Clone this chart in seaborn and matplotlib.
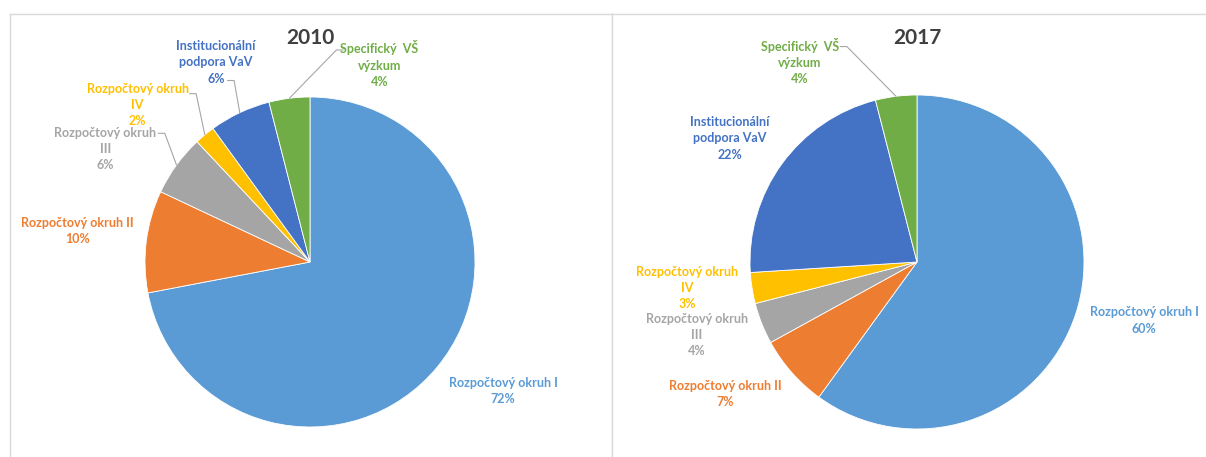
import matplotlib.pyplot as plt
import numpy as np
import seaborn as sns

sns.set_style("white")
plt.rcParams['font.family'] = ['Lato', 'DejaVu Sans']

# data
categories = ['Rozpočtový okruh I', 'Rozpočtový okruh II', 'Rozpočtový okruh\nIII',
              'Rozpočtový okruh\nIV', 'Institucionální\npodpora VaV', 'Specifický  VŠ\nvýzkum']
shares_2010 = [72, 10, 6, 2, 6, 4]
shares_2017 = [60, 7, 4, 3, 22, 4]
years = ['2010', '2017']

colors = ['#5B9BD5', '#ED7D31', '#A5A5A5', '#FFC000', '#4472C4', '#70AD47']

# label placement in pie radii (text centre, leader start or None)
layout_2010 = [((1.17, -0.78), None), ((-1.41, 0.19), None),
               ((-1.24, 0.685), (-0.92, 0.78)), ((-1.045, 0.95), (-0.73, 1.02)),
               ((-0.57, 1.21), (-0.50, 1.10)), ((0.42, 1.20), (0.20, 1.285))]
layout_2017 = [((1.36, -0.35), None), ((-1.15, -0.79), None),
               ((-1.317, -0.437), None), ((-1.375, -0.156), None),
               ((-1.12, 0.74), None), ((-0.70, 1.20), (-0.46, 1.29))]

W, H = 1206, 457
fig = plt.figure(figsize=(W / 100, H / 100), dpi=100)


def draw(left, right, cx, cy, r, shares, year, layout):
    # panel in pixel coords (top-origin y)
    ax = fig.add_axes([left / W, 0, (right - left) / W, (H - 14) / H])
    wedges, _ = ax.pie(shares, colors=colors, startangle=90, counterclock=False,
                       wedgeprops=dict(linewidth=0.6, edgecolor='white'))
    ax.set_xlim((left - cx) / r, (right - cx) / r)
    ax.set_ylim((cy - H) / r, (cy - 14) / r)
    ax.set_aspect('auto')
    for w, cat, val, col, (pos, lead) in zip(wedges, categories, shares, colors, layout):
        ax.text(pos[0], pos[1], f'{cat}\n{val}%', color=col, fontsize=9,
                fontweight='bold', ha='center', va='center', linespacing=1.42)
        if lead is not None:
            mid = np.deg2rad((w.theta1 + w.theta2) / 2)
            ex, ey = np.cos(mid), np.sin(mid)
            tick = 0.04 if ex > lead[0] else -0.04
            ax.plot([lead[0], lead[0] + tick, ex], [lead[1], lead[1], ey],
                    color='#A6A6A6', lw=0.8)
    ax.text(0, (cy - 38) / r, year, ha='center', va='center', fontsize=15,
            fontweight='bold', color='#404040')
    ax.set_axis_on()
    ax.set_frame_on(True)
    ax.set_xticks([])
    ax.set_yticks([])
    for s in ax.spines.values():
        s.set_visible(True)
        s.set_color('#D9D9D9')
        s.set_linewidth(1)
    ax.spines['bottom'].set_visible(False)
    return ax


draw(10, 612, 310, 262, 165, shares_2010, years[0], layout_2010)
ax2 = draw(612, 1206, 917, 262, 167, shares_2017, years[1], layout_2017)
ax2.spines['right'].set_visible(False)

fig.savefig('out.png', dpi=100, facecolor='white')
